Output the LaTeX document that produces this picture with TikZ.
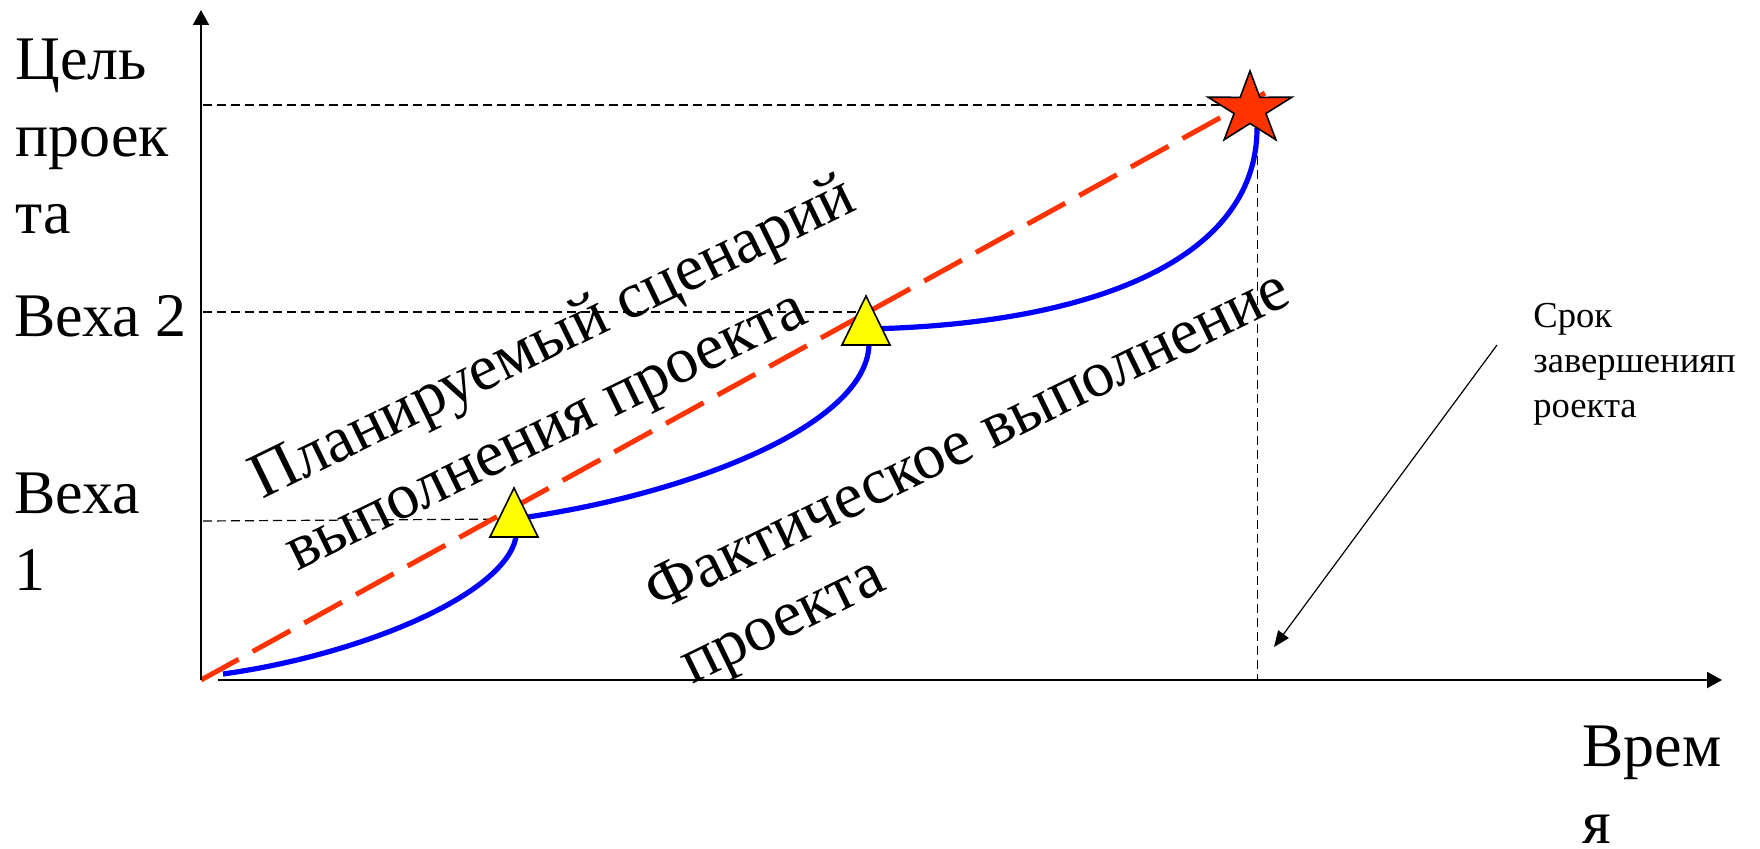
\documentclass[tikz,border=0pt]{standalone}
\usepackage{fontspec}
\setmainfont{Liberation Serif}
\usepackage{tikz}
\usetikzlibrary{arrows.meta}
\definecolor{planred}{HTML}{FF3300}
\definecolor{factblue}{HTML}{0000FF}
\definecolor{markyellow}{HTML}{FFFF00}
\newcommand{\axistxt}{\fontsize{31}{38.5}\selectfont}
\newcommand{\slanttxt}{\fontsize{32.5}{40}\selectfont}
\newcommand{\notetxt}{\fontsize{18.3}{22.3}\selectfont}

\begin{document}
\begin{tikzpicture}[x=0.5pt, y=0.5pt,
  every node/.style={inner sep=0pt, align=left},
  axis/.style={line width=1pt, -{Triangle[length=7.5pt, width=8pt]}},
  guide/.style={line width=0.6pt, dash pattern=on 4.5pt off 2.5pt},
  plan/.style={planred, line width=2.5pt, dash pattern=on 21.5pt off 8pt},
  fact/.style={factblue, line width=2.6pt},
  milestone/.style={fill=markyellow, draw=black, line width=0.8pt},
  goalmark/.style={fill=planred, draw=black, line width=0.8pt}]
\useasboundingbox (0,0) rectangle (1760,848);

% axes
\coordinate (o) at (201,168);
\coordinate (ytop) at (201,838);
\coordinate (xstart) at (218,168);
\coordinate (xend) at (1722,168);
\coordinate (m1) at (514,329);
\coordinate (m2) at (866,519);
\coordinate (goal) at (1250,739);
\coordinate (goalfoot) at (1257.7,168);

% guide lines
\draw[guide] (203,327) -- (m1);
\draw[guide] (203,536) -- (866,536);
\draw[guide] (203,743) -- (1250,743);
\draw[guide] (1257.7,720) -- (goalfoot);

% planned and actual
\draw[plan] (o) -- (1265,755);
\draw[fact] (223,174) .. controls (360,193) and (505,253) .. (516,311);
\draw[fact] (m1) .. controls (690,353) and (866,423) .. (869,503);
\draw[fact] (m2) .. controls (1080,523) and (1257,583) .. (1257,720);

% markers
\foreach \x/\y in {514/311, 866/503}
  \draw[milestone] (\x-24,\y) -- (\x,\y+49) -- (\x+24,\y) -- cycle;
\draw[goalmark, shift={(goal)}, xscale=44, yscale=38]
  (90:1) -- (126:0.38) -- (162:1) -- (198:0.38) -- (234:1) -- (270:0.38)
  -- (306:1) -- (342:0.38) -- (18:1) -- (54:0.38) -- cycle;

\draw[axis] (o) -- (ytop);
\draw[axis] (xstart) -- (xend);

% labels (base = last line)
\node[anchor=base west, font=\axistxt] (goallbl) at (15,615) {Цель\\проек\\та};
\node[anchor=base west, font=\axistxt] (ms2lbl) at (14,512) {Веха 2};
\node[anchor=base west, font=\axistxt] (ms1lbl) at (14,258) {Веха\\1};
\node[anchor=base west, font=\axistxt] (timelbl) at (1582,5) {Врем\\я};
\node[anchor=base west, font=\slanttxt, rotate=26] (planlbl) at (297,276)
  {Планируемый сценарий\\выполнения проекта};
\node[anchor=base west, font=\slanttxt, rotate=26] (factlbl) at (692,163)
  {Фактическое выполнение\\проекта};
\node[anchor=base west, font=\notetxt] (deadline) at (1533,431)
  {Срок\\завершенияп\\роекта};

\coordinate (notetail) at (1497,503);
\coordinate (notehead) at (1274,201);
\draw[line width=0.6pt, -{Triangle[length=8pt, width=6.5pt]}] (notetail) -- (notehead);
\end{tikzpicture}
\end{document}
